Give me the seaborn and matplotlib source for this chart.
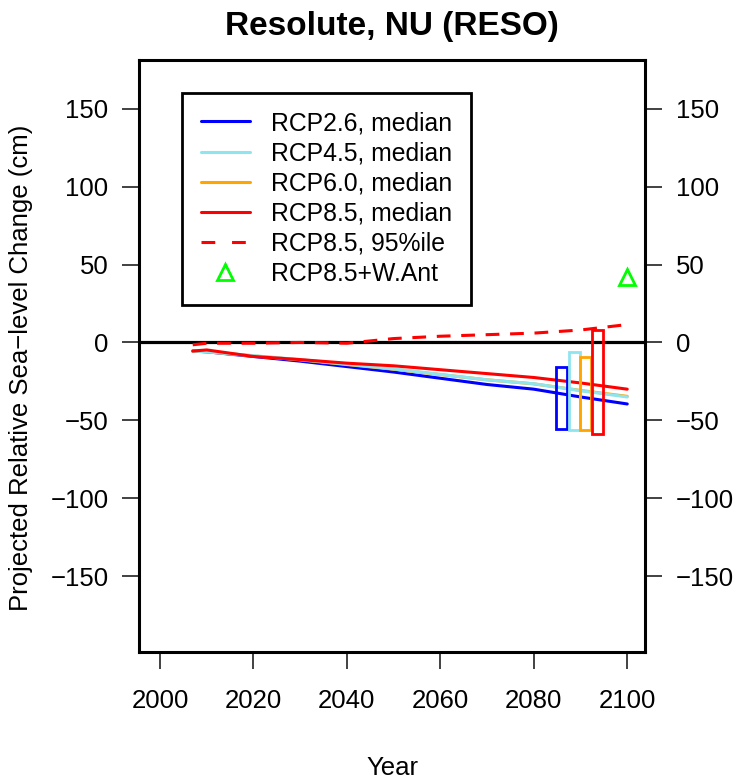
import matplotlib
matplotlib.use("Agg")
import matplotlib.pyplot as plt
import seaborn as sns
import numpy as np
import pandas as pd
from matplotlib.lines import Line2D

# ---- data ----
years = [2007, 2010, 2020, 2030, 2040, 2050, 2060, 2070, 2080, 2090, 2100]
rcp26_median = [-5.5, -6.0, -9.0, -12.0, -15.5, -19.0, -23.0, -27.0, -30.0, -35.0, -39.5]
rcp45_median = [-5.5, -6.0, -8.5, -11.0, -14.0, -17.0, -20.5, -24.0, -26.5, -31.0, -35.0]
rcp60_median = [-5.5, -6.0, -8.6, -11.2, -14.2, -17.2, -20.6, -24.0, -26.6, -30.8, -34.6]
rcp85_median = [-5.5, -4.8, -9.0, -11.0, -13.3, -15.0, -17.5, -20.0, -22.5, -26.0, -30.0]
rcp85_p95 = [-1.5, -0.5, -0.5, 0.0, -0.5, 2.5, 4.0, 5.0, 6.0, 8.0, 11.5]

box_labels = ["RCP2.6", "RCP4.5", "RCP6.0", "RCP8.5"]
box_x = [2086.0, 2088.7, 2091.0, 2093.6]
box_low = [-55.3, -56.0, -56.0, -58.5]
box_high = [-15.8, -6.2, -9.4, 7.7]

want_year = [2100]
want_value = [42.0]

legend_labels = ["RCP2.6, median", "RCP4.5, median", "RCP6.0, median",
                 "RCP8.5, median", "RCP8.5, 95%ile", "RCP8.5+W.Ant"]

c_blue = "#0000FF"
c_cyan = "#8EE5EE"
c_orange = "#FFA500"
c_red = "#FF0000"
c_green = "#00FF00"
box_colors = [c_blue, c_cyan, c_orange, c_red]

sns.set_style("white")
plt.rcParams["font.family"] = ["Liberation Sans", "DejaVu Sans"]
plt.rcParams["text.color"] = "black"
plt.rcParams["axes.labelcolor"] = "black"
plt.rcParams["xtick.color"] = "black"
plt.rcParams["ytick.color"] = "black"

fig = plt.figure(figsize=(7.44, 7.83), dpi=100)
ax = fig.add_axes([139 / 744, 1 - 651.7 / 783, (645 - 139) / 744, (651.7 - 60) / 783])

lw = 2.2
ax.axhline(0, color="black", lw=2.3, zorder=2)
sns.lineplot(x=years, y=rcp26_median, color=c_blue, lw=lw, ax=ax, zorder=3)
sns.lineplot(x=years, y=rcp60_median, color=c_orange, lw=lw, ax=ax, zorder=3)
sns.lineplot(x=years, y=rcp45_median, color=c_cyan, lw=lw, ax=ax, zorder=3)
sns.lineplot(x=years, y=rcp85_median, color=c_red, lw=lw, ax=ax, zorder=3)
sns.lineplot(x=years, y=rcp85_p95, color=c_red, lw=lw, ax=ax, zorder=3)
ax.lines[-1].set_dashes((4.5, 3.5))

heights = np.array(box_high) - np.array(box_low)
ax.bar(box_x, heights, bottom=box_low, width=2.4, fill=False,
       edgecolor=box_colors, linewidth=2.0, zorder=4)

ax.plot(want_year, want_value, marker="^", markersize=12, markerfacecolor="none",
        markeredgecolor=c_green, markeredgewidth=2.0, linestyle="none", zorder=5)

ax.set_xlim(1995.5, 2103.8)
ax.set_ylim(-198.6, 181.4)
ax.set_xticks([2000, 2020, 2040, 2060, 2080, 2100])
ax.set_yticks([-150, -100, -50, 0, 50, 100, 150])

for s in ax.spines.values():
    s.set_linewidth(2.2)
    s.set_color("black")

ax.tick_params(axis="both", direction="out", length=12, width=1.3, color="#333333",
               labelsize=18.5, labelcolor="black")
ax.tick_params(axis="y", left=True, right=True, labelleft=True, labelright=True, pad=10)
ax.tick_params(axis="x", bottom=True, pad=15)

ax.set_title("Resolute, NU (RESO)", fontsize=24, fontweight="bold", pad=18, color="black")
ax.set_xlabel("Year", fontsize=18.5, va="center", color="black")
ax.xaxis.set_label_coords(0.5, -0.196)
ax.set_ylabel("Projected Relative Sea\u2212level Change (cm)", fontsize=18.5,
              va="center", color="black")
ax.yaxis.set_label_coords(-0.233, 0.48)

handles = [
    Line2D([], [], color=c_blue, lw=lw),
    Line2D([], [], color=c_cyan, lw=lw),
    Line2D([], [], color=c_orange, lw=lw),
    Line2D([], [], color=c_red, lw=lw),
    Line2D([], [], color=c_red, lw=lw, dashes=(4.5, 5.5)),
    Line2D([], [], color=c_green, marker="^", markersize=12, markerfacecolor="none",
           markeredgewidth=2.0, linestyle="none"),
]
leg = ax.legend(handles, legend_labels, loc="upper left",
                bbox_to_anchor=(0.085, 0.945), fontsize=17.8, frameon=True,
                fancybox=False, handlelength=2.0, handletextpad=0.85,
                labelspacing=0.25, borderpad=0.75, borderaxespad=0.0)
leg.get_frame().set_edgecolor("black")
leg.get_frame().set_linewidth(2.0)
leg.get_frame().set_facecolor("white")
leg.get_frame().set_alpha(1.0)

fig.savefig("out.png", dpi=100)
